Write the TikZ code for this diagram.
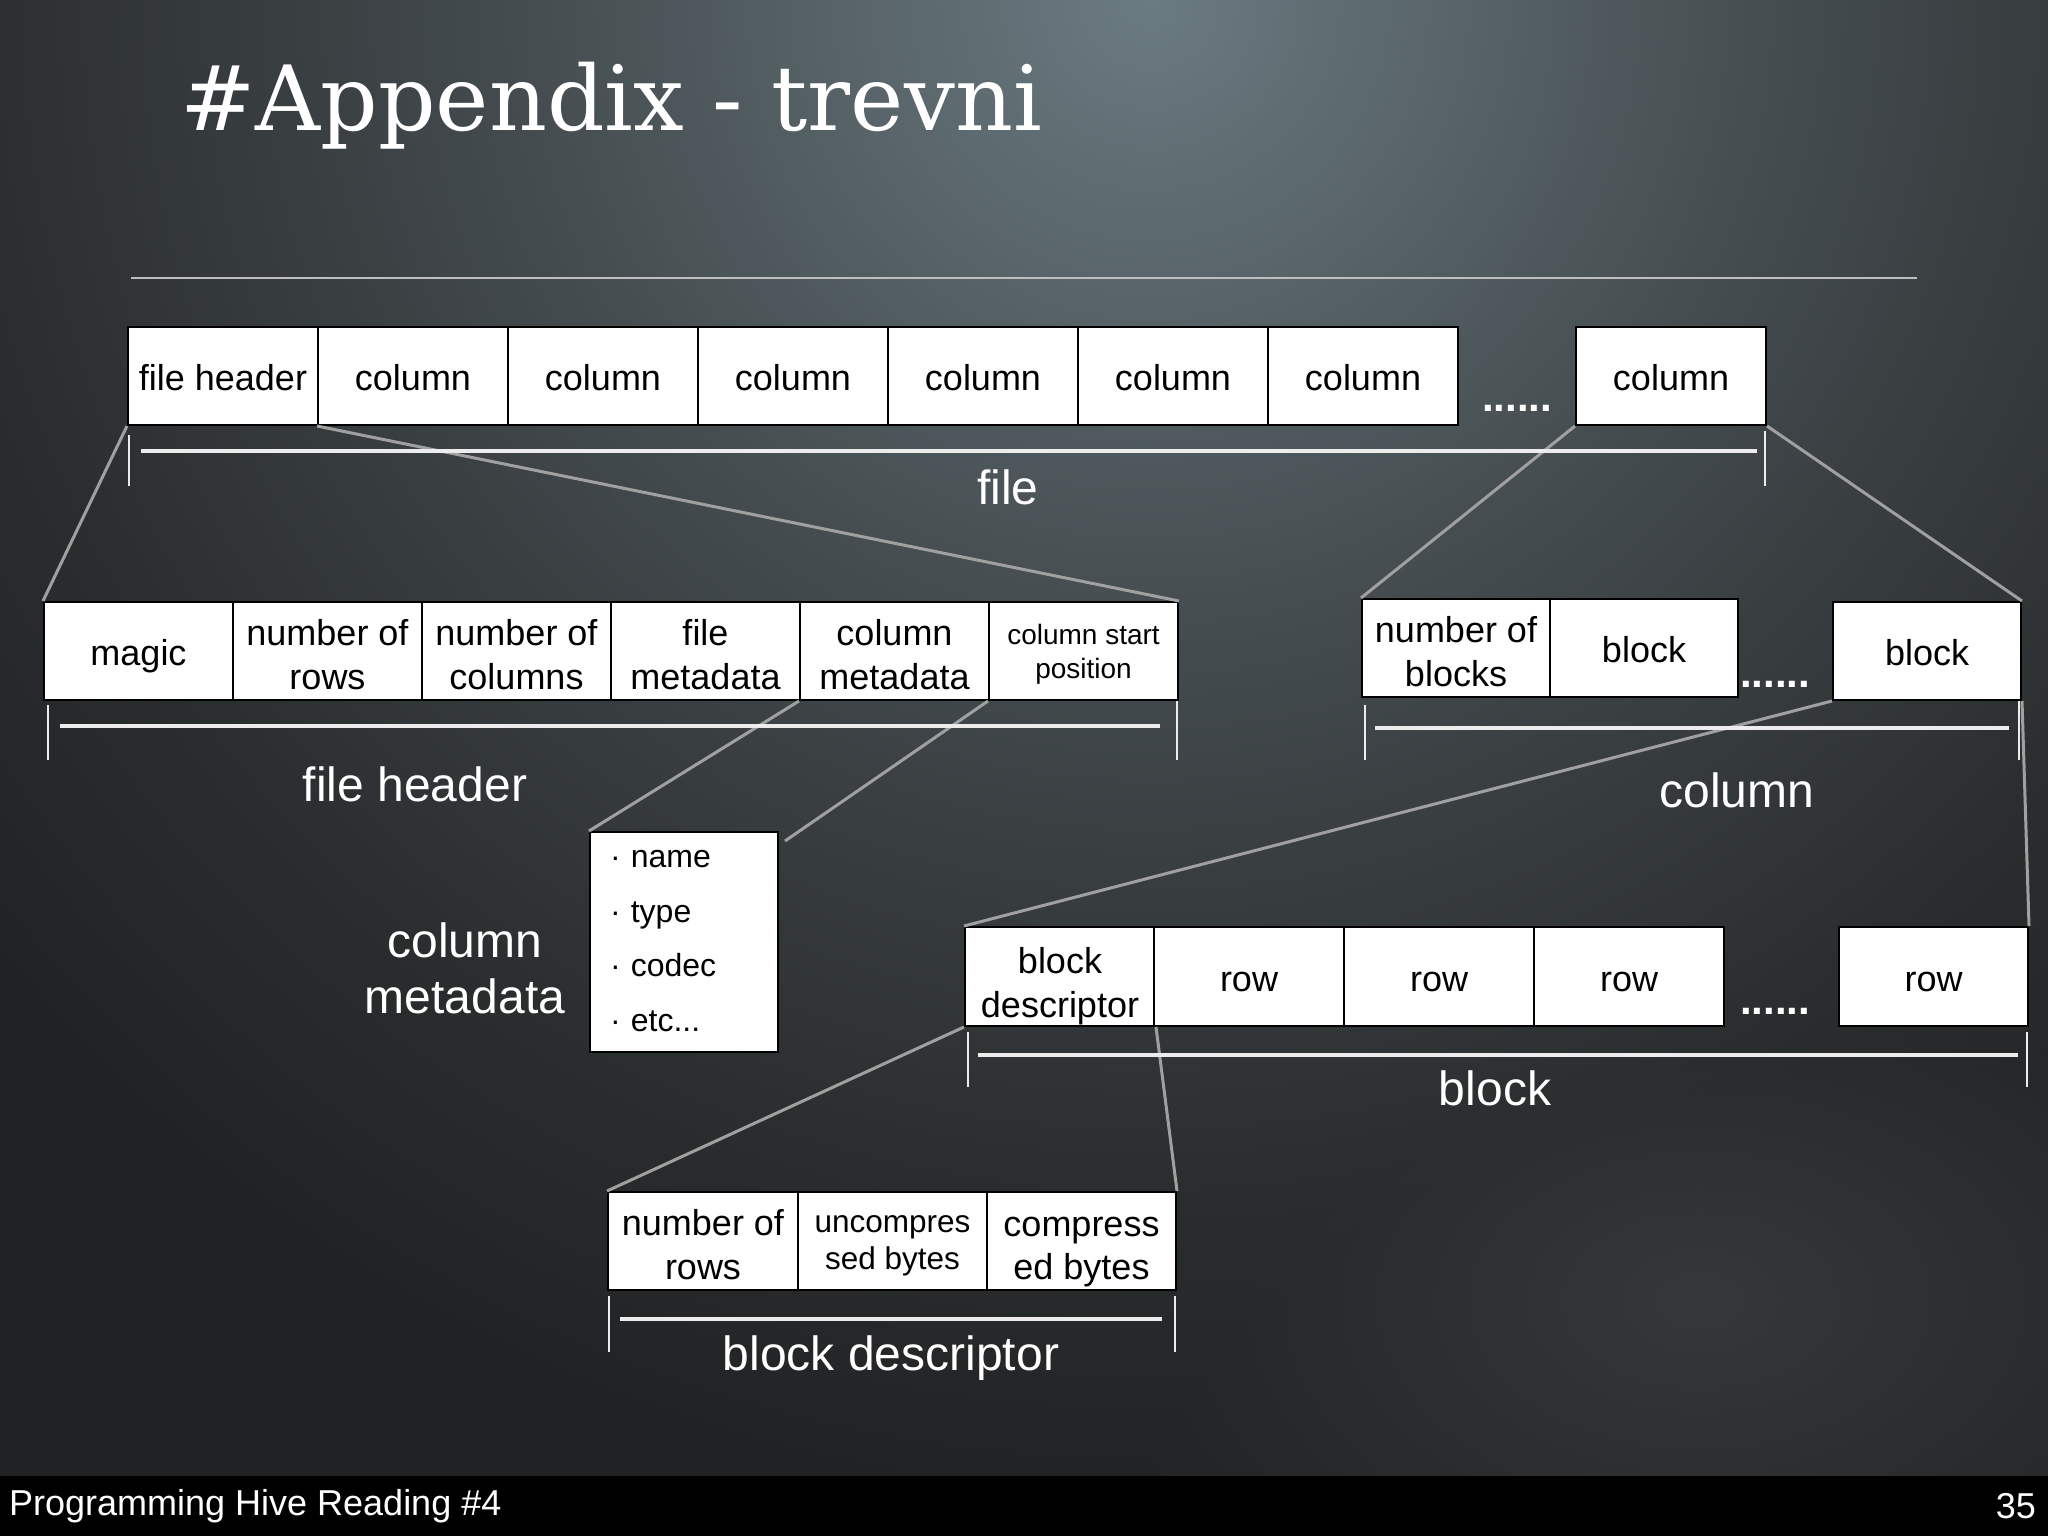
\documentclass[tikz,border=0pt]{standalone}
\usepackage{fontspec}
\setmainfont{Liberation Sans}
\newfontfamily\titlefont{DejaVu Serif}
\definecolor{bgbase}{RGB}{33,34,35}
\definecolor{glowa}{RGB}{106,123,129}
\definecolor{glowb}{RGB}{88,100,105}
\definecolor{glowc}{RGB}{70,78,81}
\definecolor{glowd}{RGB}{55,60,62}
\definecolor{glowe}{RGB}{42,45,46}
\definecolor{lowa}{RGB}{54,55,56}
\definecolor{connc}{RGB}{160,160,160}
\definecolor{barc}{RGB}{236,236,236}
\definecolor{rulec}{RGB}{190,190,190}
\pgfdeclareradialshading{glow}{\pgfpoint{0bp}{0bp}}{color(0bp)=(glowa); color(5bp)=(glowb); color(10bp)=(glowc); color(15bp)=(glowd); color(20bp)=(glowe); color(25bp)=(bgbase); color(50bp)=(bgbase)}
\pgfdeclareradialshading{glowlow}{\pgfpoint{0bp}{0bp}}{color(0bp)=(lowa); color(25bp)=(bgbase); color(50bp)=(bgbase)}
% cell text: tabular lowered by #1 without changing its reported size
\newcommand\tx[2][6pt]{\raisebox{-#1}[\height][\depth]{\begin{tabular}{@{}c@{}}#2\end{tabular}}}
\tikzset{
  cell/.style={draw=black, line width=2, fill=white, anchor=north west, inner sep=0,
    align=center, text=black, font=\fontsize{36}{44}\selectfont,
    minimum width=190, minimum height=98},
  conn/.style={draw=connc, line width=3},
  bar/.style={draw=barc, line width=4},
  tick/.style={draw=barc, line width=2.5},
  lab/.style={text=white, align=center, inner sep=0, font=\fontsize{48}{56}\selectfont},
  dots/.style={text=white, inner sep=0, anchor=base, font=\bfseries\fontsize{42}{44}\selectfont},
  bullet/.style={text=black, inner sep=0, anchor=base west, font=\fontsize{32}{36}\selectfont}
}
\begin{document}
\begin{tikzpicture}[x=1pt,y=-1pt]
\useasboundingbox (0,0) rectangle (2048,1536);
% background
\fill[bgbase] (0,0) rectangle (2048,1536);
\begin{scope}
  \clip (0,0) rectangle (2048,1476);
  \shade[shading=glow] (1150,0) ellipse [x radius=1500, y radius=1500];
  \shade[shading=glowlow, blend mode=lighten] (1700,1300) ellipse [x radius=650, y radius=420];
\end{scope}
\fill[black] (0,1476) rectangle (2048,1536);
% title and rule
\node[anchor=base west, inner sep=0, text=white, font=\titlefont\fontsize{90}{100}\selectfont] (title) at (180,131) {\#Appendix - trevni};
\draw[draw=rulec, line width=2] (131,278) -- (1917,278);

% top row: file
\node[cell] (fh) at (127,326) {\tx{file header}};
\node[cell] (c1) at (317,326) {\tx{column}};
\node[cell] (c2) at (507,326) {\tx{column}};
\node[cell] (c3) at (697,326) {\tx{column}};
\node[cell] (c4) at (887,326) {\tx{column}};
\node[cell] (c5) at (1077,326) {\tx{column}};
\node[cell] (c6) at (1267,326) {\tx{column}};
\node[dots] (dots1) at (1517,411) {......};
\node[cell] (cn) at (1575,326) {\tx{column}};

% file header row
\node[cell, minimum width=189] (mg) at (43,601) {\tx{magic}};
\node[cell, minimum width=189] (nr) at (232,601) {\tx[8pt]{number of\\rows}};
\node[cell, minimum width=189] (nc) at (421,601) {\tx[8pt]{number of\\columns}};
\node[cell, minimum width=189] (fm) at (610,601) {\tx[8pt]{file\\metadata}};
\node[cell, minimum width=189] (cm) at (799,601) {\tx[8pt]{column\\metadata}};
\node[cell, minimum width=189, font=\fontsize{28}{34}\selectfont] (cs) at (988,601) {\tx[4pt]{column start\\position}};

% column row
\node[cell, minimum width=188] (nb) at (1361,598) {\tx[8pt]{number of\\blocks}};
\node[cell, minimum width=188] (blk) at (1549,598) {\tx{block}};
\node[dots] (dots2) at (1775,687) {......};
\node[cell, minimum width=188] (bl2) at (1832,601) {\tx{block}};

% column metadata box
\node[cell, minimum width=188, minimum height=220] (meta) at (589,831) {};
\node[bullet] (b1) at (610,867) {·\hspace{10pt}name};
\node[bullet] (b2) at (610,922) {·\hspace{10pt}type};
\node[bullet] (b3) at (610,976) {·\hspace{10pt}codec};
\node[bullet] (b4) at (610,1031) {·\hspace{10pt}etc...};
\coordinate (metaR) at (785,841);

% block row
\node[cell, minimum height=99] (bd) at (964,926) {\tx[10pt]{block\\descriptor}};
\node[cell, minimum height=99] (r1) at (1153,926) {\tx{row}};
\node[cell, minimum height=99] (r2) at (1343,926) {\tx{row}};
\node[cell, minimum height=99] (r3) at (1533,926) {\tx{row}};
\node[dots] (dots3) at (1775,1014) {......};
\node[cell, minimum height=99, minimum width=189] (rn) at (1838,926) {\tx{row}};

% block descriptor row
\node[cell, minimum width=190] (dn) at (607,1191) {\tx[8pt]{number of\\rows}};
\node[cell, minimum width=189, font=\fontsize{31.5}{37}\selectfont] (du) at (797,1191) {\tx[3pt]{uncompres\\sed bytes}};
\node[cell, minimum width=189, font=\fontsize{36}{43}\selectfont] (dc) at (986,1191) {\tx[8pt]{compress\\ed bytes}};

% connectors
\draw[conn] (fh.south west) -- (mg.north west);
\draw[conn] (c1.south west) -- (cs.north east);
\draw[conn] (cn.south west) -- (nb.north west);
\draw[conn] (cn.south east) -- (bl2.north east);
\draw[conn] (cm.south west) -- (meta.north west);
\draw[conn] (cs.south west) -- (metaR);
\draw[conn] (bl2.south west) -- (bd.north west);
\draw[conn] (bl2.south east) -- (rn.north east);
\draw[conn] (bd.south west) -- (dn.north west);
\draw[conn] (bd.south east) -- (dc.north east);

% brackets and labels
\draw[tick] (129,435) -- (129,486);
\draw[bar] (141,451) -- (1757,451);
\draw[tick] (1765,431) -- (1765,486);
\node[lab] (lfile) at (1008,487) {file};

\draw[tick] (48,705) -- (48,760);
\draw[bar] (60,726) -- (1160,726);
\draw[tick] (1177,701) -- (1177,760);
\node[lab] (lheader) at (415,784) {file header};

\draw[tick] (1365,705) -- (1365,760);
\draw[bar] (1375,728) -- (2009,728);
\draw[tick] (2019,701) -- (2019,760);
\node[lab] (lcolumn) at (1737,790) {column};

\draw[tick] (968,1032) -- (968,1087);
\draw[bar] (978,1055) -- (2018,1055);
\draw[tick] (2027,1032) -- (2027,1087);
\node[lab] (lblock) at (1495,1088) {block};

\draw[tick] (609,1296) -- (609,1352);
\draw[bar] (620,1319) -- (1162,1319);
\draw[tick] (1175,1296) -- (1175,1352);
\node[lab] (ldesc) at (891,1358) {block descriptor};

\node[lab] (lmeta) at (465,968) {column\\metadata};

% footer
\node[anchor=west, inner sep=0, text=white, font=\fontsize{36}{40}\selectfont] (foot) at (9,1506) {Programming Hive Reading \#4};
\node[anchor=east, inner sep=0, text=white, font=\fontsize{36}{40}\selectfont] (page) at (2036,1506) {35};
\end{tikzpicture}
\end{document}
